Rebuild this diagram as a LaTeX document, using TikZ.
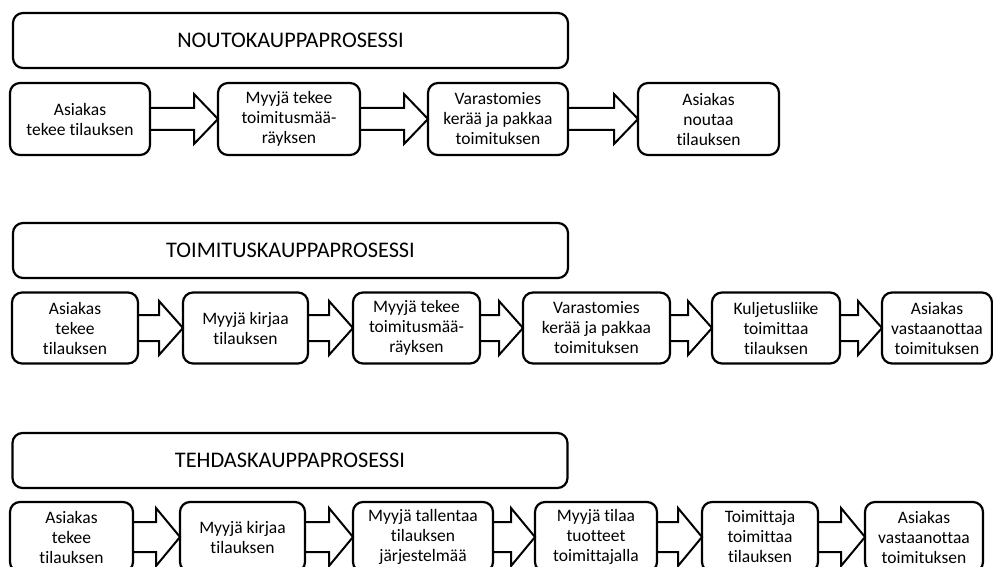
\documentclass[tikz,border=0pt]{standalone}
\usepackage{fontspec}
\setmainfont{Carlito}[Ligatures=NoCommon]
\usepackage{tikz}
\usetikzlibrary{calc,positioning}

% hollow block arrow between two boxes: from, to, half height of shaft
\newcommand\blockarrow[3]{%
  \draw[blockarr] let \p1=(#1.east), \p2=(#2.west) in
    (\x1,\y1+#3) -- (\x2-24pt,\y1+#3) -- (\x2-24pt,\y1+#3+14pt) -- (\x2,\y1)
    -- (\x2-24pt,\y1-#3-14pt) -- (\x2-24pt,\y1-#3) -- (\x1,\y1-#3);}

\begin{document}
\begin{tikzpicture}[x=1pt,y=-1pt,
  stepbox/.style={draw,line width=2.2pt,rounded corners=10pt,align=center,
    inner sep=1pt,outer sep=0pt,font=\fontsize{17.5}{20}\selectfont},
  titlebox/.style={draw,line width=2.2pt,rounded corners=10pt,
    minimum width=555pt,minimum height=55pt,font=\fontsize{22.3}{26}\selectfont},
  blockarr/.style={line width=2pt,line join=miter}]
  \useasboundingbox (0,0) rectangle (993,567);

  % noutokauppa
  \node[titlebox] (t1) at (290.5,40.5) {NOUTOKAUPPAPROSESSI};
  \node[stepbox,minimum width=140pt,minimum height=72pt] (n1a) at (80,119) {Asiakas\\tekee tilauksen};
  \node[stepbox,minimum width=142pt,minimum height=72pt,right=68pt of n1a] (n1b) {Myyjä tekee\\toimitusmää-\\räyksen};
  \node[stepbox,minimum width=140pt,minimum height=72pt,right=68pt of n1b] (n1c) {Varastomies\\kerää ja pakkaa\\toimituksen};
  \node[stepbox,minimum width=141pt,minimum height=72pt,right=70pt of n1c] (n1d) {Asiakas\\noutaa\\tilauksen};
  \foreach \a/\b in {n1a/n1b,n1b/n1c,n1c/n1d}{\blockarrow{\a}{\b}{11pt}}

  % toimituskauppa
  \node[titlebox] (t2) at (290.5,250.5) {TOIMITUSKAUPPAPROSESSI};
  \node[stepbox,minimum width=126pt,minimum height=71pt] (n2a) at (75,328) {Asiakas\\tekee\\tilauksen};
  \node[stepbox,minimum width=125pt,minimum height=71pt,right=45pt of n2a] (n2b) {Myyjä kirjaa\\tilauksen};
  \node[stepbox,minimum width=127pt,minimum height=71pt,right=45pt of n2b] (n2c) {Myyjä tekee\\toimitusmää-\\räyksen};
  \node[stepbox,minimum width=147pt,minimum height=71pt,right=43pt of n2c] (n2d) {Varastomies\\kerää ja pakkaa\\toimituksen};
  \node[stepbox,minimum width=128pt,minimum height=71pt,right=42pt of n2d] (n2e) {Kuljetusliike\\toimittaa\\tilauksen};
  \node[stepbox,minimum width=110pt,minimum height=71pt,right=42pt of n2e] (n2f) {Asiakas\\vastaanottaa\\toimituksen};
  \foreach \a/\b in {n2a/n2b,n2b/n2c,n2c/n2d,n2d/n2e,n2e/n2f}{\blockarrow{\a}{\b}{13pt}}

  % tehdaskauppa
  \node[titlebox] (t3) at (290,460.5) {TEHDASKAUPPAPROSESSI};
  \node[stepbox,minimum width=123pt,minimum height=70pt] (n3a) at (71.5,537) {Asiakas\\tekee\\tilauksen};
  \node[stepbox,minimum width=125pt,minimum height=70pt,right=47pt of n3a] (n3b) {Myyjä kirjaa\\tilauksen};
  \node[stepbox,minimum width=140pt,minimum height=70pt,right=48pt of n3b] (n3c) {Myyjä tallentaa\\tilauksen\\järjestelmää};
  \node[stepbox,minimum width=122pt,minimum height=70pt,right=42pt of n3c] (n3d) {Myyjä tilaa\\tuotteet\\toimittajalla};
  \node[stepbox,minimum width=116pt,minimum height=70pt,right=45pt of n3d] (n3e) {Toimittaja\\toimittaa\\tilauksen};
  \node[stepbox,minimum width=118pt,minimum height=70pt,right=47pt of n3e] (n3f) {Asiakas\\vastaanottaa\\toimituksen};
  \foreach \a/\b in {n3a/n3b,n3b/n3c,n3c/n3d,n3d/n3e,n3e/n3f}{\blockarrow{\a}{\b}{15pt}}
\end{tikzpicture}
\end{document}
